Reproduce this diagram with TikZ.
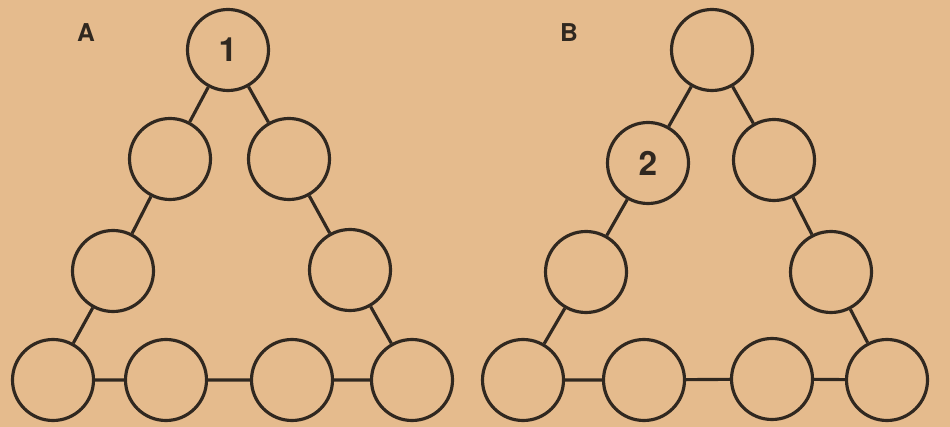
\documentclass[tikz,border=0pt]{standalone}
\usepackage{fontspec}
\setmainfont{TeX Gyre Heros}
\usepackage{xcolor}
\usepackage{tikz}
\usetikzlibrary{positioning}
\definecolor{paper}{RGB}{229,187,141}
\definecolor{ink}{RGB}{48,40,32}
\tikzset{
    cell/.style={circle, draw=ink, line width=1.8pt, minimum size=1.62cm, inner sep=0pt, font=\fontsize{19}{19}\selectfont\bfseries, text=ink},
    link/.style={draw=ink, line width=1.8pt},
    tag/.style={font=\fontsize{14}{14}\selectfont\bfseries, text=ink}
}

\begin{document}
\begin{tikzpicture}[x=0.2mm, y=-0.2mm]
    \fill[paper] (0,0) rectangle (950,427);
    \useasboundingbox (0,0) rectangle (950,427);

    % Triangle A
    \node[tag] (labA) at (86,33) {A};
    \node[cell] (a1) at (228,50) {1};
    \node[cell] (a2) at (170,159) {};
    \node[cell] (a3) at (289,159) {};
    \node[cell] (a4) at (113,271) {};
    \node[cell] (a5) at (350,270) {};
    \node[cell] (a6) at (53,380) {};
    \node[cell] (a7) at (166,380) {};
    \node[cell] (a8) at (292,380) {};
    \node[cell] (a9) at (412,380) {};
    \draw[link] (a1) -- (a2) -- (a4) -- (a6) -- (a7) -- (a8) -- (a9) -- (a5) -- (a3) -- (a1);

    % Triangle B
    \node[tag] (labB) at (569,33) {B};
    \node[cell] (b1) at (712,50) {};
    \node[cell] (b2) at (648,163) {2};
    \node[cell] (b3) at (774,160) {};
    \node[cell] (b4) at (586,272) {};
    \node[cell] (b5) at (831,272) {};
    \node[cell] (b6) at (523,380) {};
    \node[cell] (b7) at (644,380) {};
    \node[cell] (b8) at (772,379) {};
    \node[cell] (b9) at (887,380) {};
    \draw[link] (b1) -- (b2) -- (b4) -- (b6) -- (b7) -- (b8) -- (b9) -- (b5) -- (b3) -- (b1);
\end{tikzpicture}
\end{document}
